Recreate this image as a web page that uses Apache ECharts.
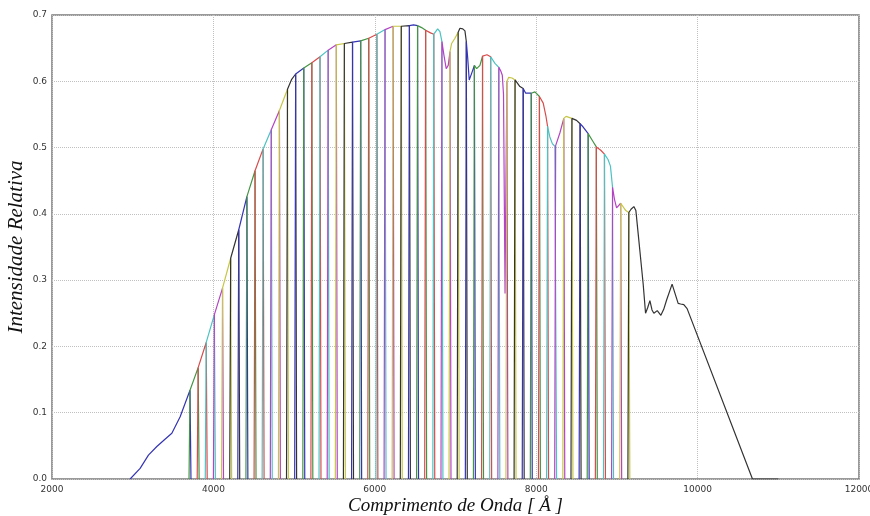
<!DOCTYPE html>
<html>
<head>
<meta charset="utf-8">
<script src="https://cdn.jsdelivr.net/npm/echarts@6/dist/echarts.min.js"></script>
<style>
  html, body { margin: 0; padding: 0; background: #ffffff; }
  #chart { width: 870px; height: 516px; }
</style>
</head>
<body>
<div id="chart"></div>
<script>
// Relative spectral intensity, sampled at the readings below (wavelength in Å)
const specWave = [
  2968, 3092, 3195, 3299, 3400, 3485, 3588, 3710, 3811, 3911,
  4012, 4113, 4214, 4314, 4415, 4516, 4616, 4717, 4818, 4918,
  4970, 5019, 5074, 5120, 5220, 5321, 5422, 5523, 5623, 5724,
  5825, 5925, 6026, 6127, 6227, 6328, 6429, 6480, 6530, 6580,
  6630, 6690, 6731, 6779, 6807, 6832, 6857, 6885, 6910, 6932,
  6952, 6993, 7033, 7055, 7090, 7117, 7134, 7150, 7170, 7200,
  7234, 7262, 7303, 7335, 7350, 7390, 7436, 7489, 7537, 7560,
  7580, 7595, 7605, 7614, 7625, 7637, 7660, 7700, 7738, 7798,
  7839, 7870, 7939, 7984, 8040, 8087, 8120, 8141, 8169, 8200,
  8231, 8241, 8293, 8342, 8370, 8443, 8500, 8544, 8582, 8644,
  8700, 8745, 8800, 8846, 8890, 8920, 8946, 8970, 8996, 9047,
  9070, 9110, 9148, 9175, 9210, 9235, 9263, 9284, 9325, 9355,
  9380, 9409, 9435, 9458, 9500, 9545, 9580, 9616, 9684, 9720,
  9759, 9790, 9829, 9870, 10680, 11000
];
const specInt = [
  0.000, 0.016, 0.036, 0.049, 0.060, 0.069, 0.094, 0.134, 0.168, 0.206,
  0.248, 0.288, 0.333, 0.376, 0.426, 0.465, 0.498, 0.527, 0.556, 0.588,
  0.603, 0.611, 0.616, 0.620, 0.628, 0.637, 0.647, 0.655, 0.657, 0.659,
  0.661, 0.665, 0.671, 0.678, 0.683, 0.683, 0.684, 0.685, 0.684, 0.681,
  0.677, 0.673, 0.671, 0.679, 0.675, 0.660, 0.639, 0.619, 0.624, 0.645,
  0.657, 0.665, 0.674, 0.680, 0.679, 0.676, 0.660, 0.637, 0.602, 0.612,
  0.624, 0.619, 0.624, 0.638, 0.641, 0.640, 0.637, 0.627, 0.621, 0.616,
  0.609, 0.580, 0.420, 0.280, 0.450, 0.600, 0.606, 0.605, 0.602, 0.592,
  0.589, 0.582, 0.582, 0.584, 0.577, 0.567, 0.548, 0.532, 0.516, 0.506,
  0.502, 0.503, 0.522, 0.544, 0.547, 0.544, 0.541, 0.536, 0.531, 0.521,
  0.510, 0.501, 0.496, 0.490, 0.482, 0.472, 0.440, 0.422, 0.409, 0.416,
  0.417, 0.405, 0.402, 0.407, 0.411, 0.405, 0.371, 0.345, 0.295, 0.250,
  0.258, 0.269, 0.255, 0.250, 0.254, 0.247, 0.256, 0.270, 0.294, 0.280,
  0.265, 0.264, 0.263, 0.257, 0.000, 0.000
];

// Filter band boundaries (Å); the first band covers everything below the
// first edge and the last band everything above the final edge
const bandEdges = [
  3710, 3811, 3911, 4012, 4113, 4214, 4314, 4415, 4516, 4616,
  4717, 4818, 4918, 5019, 5120, 5220, 5321, 5422, 5523, 5623,
  5724, 5825, 5925, 6026, 6127, 6227, 6328, 6429, 6530, 6630,
  6731, 6832, 6932, 7033, 7134, 7234, 7335, 7436, 7537, 7637,
  7738, 7839, 7939, 8040, 8141, 8241, 8342, 8443, 8544, 8644,
  8745, 8846, 8946, 9047, 9148
];

// Width of each filter's sloped edge (Å)
const edgeRamp = 12;

const xTicks = [2000, 4000, 6000, 8000, 10000, 12000];
const yTicks = [0.0, 0.1, 0.2, 0.3, 0.4, 0.5, 0.6, 0.7];

// Cycling line colours: blue, green, red, cyan, magenta, yellow, black
const bandColors = ['#3434b4', '#459445', '#d84c4c', '#4cc2c2', '#b444c4', '#c6c646', '#333333'];

function samplesBetween(lo, hi) {
  const out = [];
  for (let i = 0; i < specWave.length; i++) {
    if (specWave[i] >= lo && specWave[i] <= hi) out.push([specWave[i], specInt[i]]);
  }
  return out;
}

const series = [];
const nBands = bandEdges.length + 1;
for (let k = 0; k < nBands; k++) {
  let data;
  if (k === 0) {
    data = samplesBetween(specWave[0], bandEdges[0]);
    data.push([bandEdges[0] + edgeRamp, 0]);
  } else if (k === nBands - 1) {
    const lo = bandEdges[k - 1];
    data = [[lo - edgeRamp, 0]].concat(samplesBetween(lo, specWave[specWave.length - 1]));
  } else {
    const lo = bandEdges[k - 1], hi = bandEdges[k];
    data = [[lo - edgeRamp, 0]].concat(samplesBetween(lo, hi));
    data.push([hi + edgeRamp, 0]);
  }
  series.push({
    type: 'line',
    data: data,
    showSymbol: false,
    symbol: 'none',
    silent: true,
    lineStyle: { color: bandColors[k % bandColors.length], width: 1.2 },
    animation: false
  });
}

const chart = echarts.init(document.getElementById('chart'), null, { renderer: 'canvas' });
chart.setOption({
  backgroundColor: '#ffffff',
  animation: false,
  grid: {
    left: 52, right: 11, top: 15, bottom: 37,
    containLabel: false,
    outerBoundsMode: 'none',
    show: true, borderColor: '#7a7a7a', borderWidth: 1.5, backgroundColor: 'transparent'
  },
  xAxis: {
    type: 'value',
    min: xTicks[0], max: xTicks[xTicks.length - 1], interval: 2000,
    name: 'Comprimento de Onda [ Å ]',
    nameLocation: 'middle', nameGap: 17, nameMoveOverlap: false,
    nameTextStyle: { fontFamily: 'Liberation Serif', fontStyle: 'italic', fontSize: 19, color: '#111' },
    axisLine: { show: false },
    axisTick: { show: false },
    axisLabel: { fontFamily: 'DejaVu Sans', fontSize: 9, color: '#333', margin: 6,
      formatter: v => String(v) },
    splitLine: { show: true, lineStyle: { color: '#c0c0c0', type: 'dotted', width: 1 } }
  },
  yAxis: {
    type: 'value',
    min: yTicks[0], max: yTicks[yTicks.length - 1], interval: 0.1,
    name: 'Intensidade Relativa',
    nameLocation: 'middle', nameGap: 25, nameRotate: 90, nameMoveOverlap: false,
    nameTextStyle: { fontFamily: 'Liberation Serif', fontStyle: 'italic', fontSize: 21, color: '#111' },
    axisLine: { show: false },
    axisTick: { show: false },
    axisLabel: { fontFamily: 'DejaVu Sans', fontSize: 9, color: '#333', margin: 5,
      formatter: v => v.toFixed(1) },
    splitLine: { show: true, lineStyle: { color: '#c0c0c0', type: 'dotted', width: 1 } }
  },
  series: series
});
</script>
</body>
</html>
